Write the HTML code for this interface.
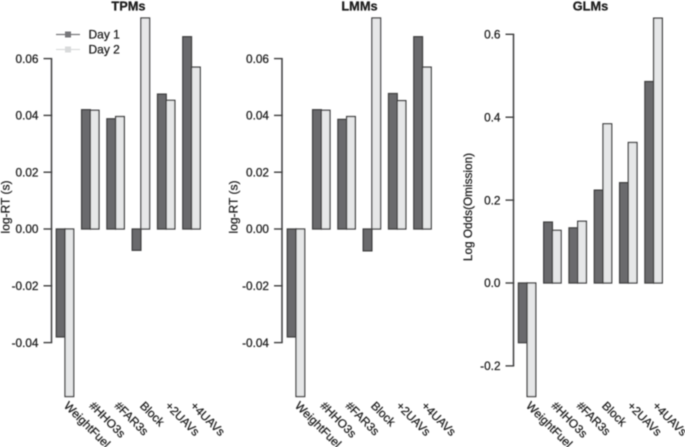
<!DOCTYPE html>
<html>
<head>
<meta charset="utf-8">
<style>
html,body{margin:0;padding:0;background:#fff;width:685px;height:447px;overflow:hidden}
svg{display:block;font-family:"Liberation Sans",sans-serif}
</style>
</head>
<body>
<svg id="chart" width="685" height="447" viewBox="0 0 685 447" xmlns="http://www.w3.org/2000/svg">
<defs><filter id="soft" x="0" y="0" width="100%" height="100%"><feGaussianBlur stdDeviation="0.4"/></filter></defs>
<g id="root" filter="url(#soft)"></g>
</svg>
<script>
const categories = ["WeightFuel", "#HHO3s", "#FAR3s", "Block", "+2UAVs", "+4UAVs"];
const seriesNames = ["Day 1", "Day 2"];
const tpmDay1 = [-0.038, 0.042, 0.0388, -0.0075, 0.0475, 0.0677];
const tpmDay2 = [-0.059, 0.0418, 0.0396, 0.0743, 0.0453, 0.057];
const lmmDay1 = [-0.038, 0.042, 0.0386, -0.0077, 0.0477, 0.0677];
const lmmDay2 = [-0.059, 0.0418, 0.0396, 0.0743, 0.0452, 0.057];
const glmDay1 = [-0.144, 0.147, 0.133, 0.224, 0.242, 0.486];
const glmDay2 = [-0.274, 0.127, 0.149, 0.384, 0.339, 0.639];
const rtTicks = ["-0.04", "-0.02", "0.00", "0.02", "0.04", "0.06"];
const glmTicks = ["-0.2", "0.0", "0.2", "0.4", "0.6"];

const NS = "http://www.w3.org/2000/svg";
const root = document.getElementById("root");
const COLORS = ["#6b6b6d", "#e6e7e8"];
const INK = "#3f3f41";
const TEXT = "#1c1c1c";
const TEXT_WEIGHT = 0.25;

function mk(tag, attrs, parent, text) {
  const el = document.createElementNS(NS, tag);
  for (const k in attrs) el.setAttribute(k, attrs[k]);
  if (text !== undefined) {
    el.textContent = text;
    el.setAttribute("stroke", TEXT);
    el.setAttribute("stroke-width", TEXT_WEIGHT);
  }
  parent.appendChild(el);
  return el;
}

function drawPanel(cfg) {
  const g = mk("g", {}, root);
  
  

  const y = v => cfg.zeroY - v * cfg.pxPerUnit;
  const groupX = i => cfg.firstBarX + i * cfg.groupStep;

  const title = mk("text", {x: cfg.titleX, y: 10.5, "text-anchor": "middle", "font-size": 12.8, "font-weight": "bold", fill: TEXT}, g, cfg.title);
  
  

  const tickVals = cfg.ticks.map(Number);
  const axis = mk("path", {
    d: "M" + cfg.axisX + " " + y(Math.min(...tickVals)) + "V" + y(Math.max(...tickVals)),
    stroke: INK, "stroke-width": 1.5, fill: "none"
  }, g);
  
  

  cfg.ticks.forEach(function (label) {
    const ty = y(Number(label));
    const tick = mk("line", {x1: cfg.axisX - 8, x2: cfg.axisX + 0.7, y1: ty, y2: ty, stroke: INK, "stroke-width": 1.4}, g);
    
    
    const tl = mk("text", {x: cfg.axisX - 13, y: ty + 4.2, "text-anchor": "end", "font-size": 11.8, fill: TEXT}, g, label);
    
    
  });

  const yt = mk("text", {
    transform: "translate(" + cfg.yTitleX + " " + cfg.yTitleY + ") rotate(-90)",
    "text-anchor": "middle", "font-size": cfg.yTitleSize, fill: TEXT
  }, g, cfg.yTitle);
  
  

  const barW = 8.7;
  categories.forEach(function (cat, i) {
    [cfg.day1, cfg.day2].forEach(function (series, s) {
      const v = series[i];
      const top = Math.min(y(v), y(0));
      const bar = mk("rect", {
        x: groupX(i) + s * barW, y: top, width: barW, height: Math.abs(y(v) - y(0)),
        fill: COLORS[s], stroke: INK, "stroke-width": 1.3
      }, g);
      
      
    });
    const lx = groupX(i) + 7;
    const lab = mk("text", {
      transform: "translate(" + lx + " 406.5) rotate(45)",
      "font-size": 11.8, fill: TEXT
    }, g, cat);
    
    
  });
}

drawPanel({key: "tpm", title: "TPMs", titleX: 128.5, axisX: 51.5, zeroY: 229, pxPerUnit: 2840,
  firstBarX: 56.3, groupStep: 25.3, ticks: rtTicks, day1: tpmDay1, day2: tpmDay2,
  yTitle: "log-RT (s)", yTitleX: 9.5, yTitleY: 207, yTitleSize: 12});
drawPanel({key: "lmm", title: "LMMs", titleX: 359.5, axisX: 282, zeroY: 229, pxPerUnit: 2840,
  firstBarX: 287.3, groupStep: 25.3, ticks: rtTicks, day1: lmmDay1, day2: lmmDay2,
  yTitle: "log-RT (s)", yTitleX: 237.5, yTitleY: 207, yTitleSize: 12});
drawPanel({key: "glm", title: "GLMs", titleX: 590.5, axisX: 513.5, zeroY: 283, pxPerUnit: 414.5,
  firstBarX: 518.4, groupStep: 25.3, ticks: glmTicks, day1: glmDay1, day2: glmDay2,
  yTitle: "Log Odds(Omission)", yTitleX: 472, yTitleY: 207, yTitleSize: 11.8});

const legend = mk("g", {}, root);


const legendLine = ["#77777a", "#dcdddd"];
const legendBox = ["#77777a", "#d9dadb"];
seriesNames.forEach(function (name, i) {
  const ly = 34.5 + i * 15;
  const entry = mk("g", {}, legend);
  
  
  mk("line", {x1: 56, x2: 80, y1: ly, y2: ly, stroke: legendLine[i], "stroke-width": 1.2}, entry);
  mk("rect", {x: 65, y: ly - 3, width: 6, height: 6, fill: legendBox[i]}, entry);
  mk("text", {x: 88.5, y: ly + 4.2, "font-size": 12, fill: TEXT}, entry, name);
});
</script>
</body>
</html>
